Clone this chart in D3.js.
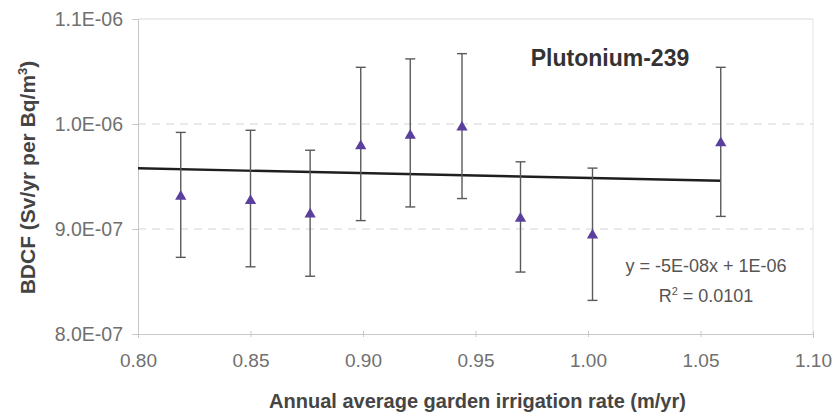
<!DOCTYPE html>
<html>
<head>
<meta charset="utf-8">
<script src="https://cdn.jsdelivr.net/npm/d3@7"></script>
<style>
  html, body { margin: 0; padding: 0; background: #fff; }
  svg { display: block; font-family: "Liberation Sans", Arial, sans-serif; }
</style>
</head>
<body>
<svg id="chart" width="840" height="416"></svg>
<script>
// ---- Data ----
const irrigation = [0.819, 0.850, 0.8765, 0.899, 0.921, 0.944, 0.970, 1.002, 1.059];
const bdcf       = [9.31e-7, 9.27e-7, 9.14e-7, 9.79e-7, 9.89e-7, 9.97e-7, 9.10e-7, 8.94e-7, 9.82e-7];
const errTop     = [9.92e-7, 9.94e-7, 9.75e-7, 1.054e-6, 1.062e-6, 1.067e-6, 9.64e-7, 9.58e-7, 1.054e-6];
const errBottom  = [8.73e-7, 8.64e-7, 8.55e-7, 9.08e-7, 9.21e-7, 9.29e-7, 8.59e-7, 8.32e-7, 9.12e-7];
const xTicks     = [0.80, 0.85, 0.90, 0.95, 1.00, 1.05, 1.10];
const yTicks     = [8.0e-7, 9.0e-7, 1.0e-6, 1.1e-6];
const yTickLabels = ["8.0E-07", "9.0E-07", "1.0E-06", "1.1E-06"];
const trendSlope = -4.6e-8;
const trendIntercept = 9.946e-7;
const chartTitle = "Plutonium-239";
const equationText = "y = -5E-08x + 1E-06";
const r2Value = "0.0101";
const xTitle = "Annual average garden irrigation rate (m/yr)";

// ---- Layout ----
const W = 840, H = 416;
const margin = { left: 138, right: 27, top: 19, bottom: 82 };
const svg = d3.select("#chart");

const x = d3.scaleLinear().domain([0.80, 1.10]).range([margin.left, W - margin.right]);
const y = d3.scaleLinear().domain([8.0e-7, 1.1e-6]).range([H - margin.bottom, margin.top]);

const data = irrigation.map((v, i) => ({ x: v, y: bdcf[i], top: errTop[i], bottom: errBottom[i] }));

// Plot frame (light)
svg.append("line").attr("x1", x(1.10)).attr("x2", x(1.10))
  .attr("y1", y(1.1e-6)).attr("y2", y(8e-7)).attr("stroke", "#e4e4e4").attr("stroke-width", 1);

// Gridlines: dashed for inner values, solid light at top
svg.append("g").selectAll("line").data(yTicks.slice(1)).join("line")
  .attr("x1", x(0.80)).attr("x2", x(1.10))
  .attr("y1", d => y(d)).attr("y2", d => y(d))
  .attr("stroke", d => d === 1.1e-6 ? "#d8d8d8" : "#d4d4d4")
  .attr("stroke-width", 1)
  .attr("stroke-dasharray", d => d === 1.1e-6 ? null : "8,6");

// Y axis
const yAxis = d3.axisLeft(y).tickValues(yTicks).tickSize(6).tickFormat((d, i) => yTickLabels[i]);
const gy = svg.append("g").attr("transform", `translate(${x(0.80)},0)`).call(yAxis);
gy.select(".domain").attr("stroke", "#c8c8c8");
gy.selectAll(".tick line").attr("stroke", "#c8c8c8");
gy.selectAll(".tick text").attr("x", -15).attr("font-size", 19.5).attr("fill", "#707070")
  .attr("font-family", "'Liberation Sans', Arial, sans-serif");

// X axis
const xAxis = d3.axisBottom(x).tickValues(xTicks).tickSize(4).tickFormat(d3.format(".2f"));
const gx = svg.append("g").attr("transform", `translate(0,${y(8e-7)})`).call(xAxis);
gx.select(".domain").attr("stroke", "#c8c8c8");
gx.selectAll(".tick line").attr("stroke", "#c8c8c8").attr("y1", -3).attr("y2", 3);
gx.selectAll(".tick text").attr("y", 20).attr("font-size", 19).attr("fill", "#707070")
  .attr("font-family", "'Liberation Sans', Arial, sans-serif");

// Trendline
const xMaxData = d3.max(irrigation);
svg.append("line")
  .attr("x1", x(0.80)).attr("y1", y(trendSlope * 0.80 + trendIntercept))
  .attr("x2", x(xMaxData)).attr("y2", y(trendSlope * xMaxData + trendIntercept))
  .attr("stroke", "#1e1e1e").attr("stroke-width", 2.4);

// Error bars
const eb = svg.append("g").attr("stroke", "#5a5a5a").attr("stroke-width", 1.4);
eb.selectAll("line.v").data(data).join("line").attr("class", "v")
  .attr("x1", d => x(d.x)).attr("x2", d => x(d.x))
  .attr("y1", d => y(d.top)).attr("y2", d => y(d.bottom));
eb.selectAll("line.t").data(data).join("line").attr("class", "t")
  .attr("x1", d => x(d.x) - 5).attr("x2", d => x(d.x) + 5)
  .attr("y1", d => y(d.top)).attr("y2", d => y(d.top));
eb.selectAll("line.b").data(data).join("line").attr("class", "b")
  .attr("x1", d => x(d.x) - 5).attr("x2", d => x(d.x) + 5)
  .attr("y1", d => y(d.bottom)).attr("y2", d => y(d.bottom));

// Markers
svg.append("g").selectAll("path").data(data).join("path")
  .attr("d", d3.symbol().type(d3.symbolTriangle).size(55))
  .attr("transform", d => `translate(${x(d.x)},${y(d.y)})`)
  .attr("fill", "#5b3f9e");

// Chart title
svg.append("text").attr("x", 610).attr("y", 66).attr("text-anchor", "middle")
  .attr("font-size", 23).attr("font-weight", "bold").attr("fill", "#333")
  .text(chartTitle);

// Equation
svg.append("text").attr("x", 706).attr("y", 272).attr("text-anchor", "middle")
  .attr("font-size", 18).attr("fill", "#555").text(equationText);
const r2 = svg.append("text").attr("x", 706).attr("y", 302).attr("text-anchor", "middle")
  .attr("font-size", 18).attr("fill", "#555");
r2.append("tspan").text("R");
r2.append("tspan").attr("dy", -7).attr("font-size", 11).text("2");
r2.append("tspan").attr("dy", 7).text(" = " + r2Value);

// Y axis title
const yt = svg.append("text")
  .attr("transform", `translate(35,${(y(8e-7) + y(1.1e-6)) / 2 + 1}) rotate(-90)`)
  .attr("text-anchor", "middle").attr("font-size", 21).attr("font-weight", "bold").attr("fill", "#444");
yt.append("tspan").text("BDCF (Sv/yr per Bq/m");
yt.append("tspan").attr("dy", -8).attr("font-size", 13).text("3");
yt.append("tspan").attr("dy", 8).text(")");

// X axis title
svg.append("text").attr("x", (x(0.80) + x(1.10)) / 2 + 2).attr("y", 408)
  .attr("text-anchor", "middle").attr("font-size", 20).attr("font-weight", "bold").attr("fill", "#454545")
  .text(xTitle);
</script>
</body>
</html>
